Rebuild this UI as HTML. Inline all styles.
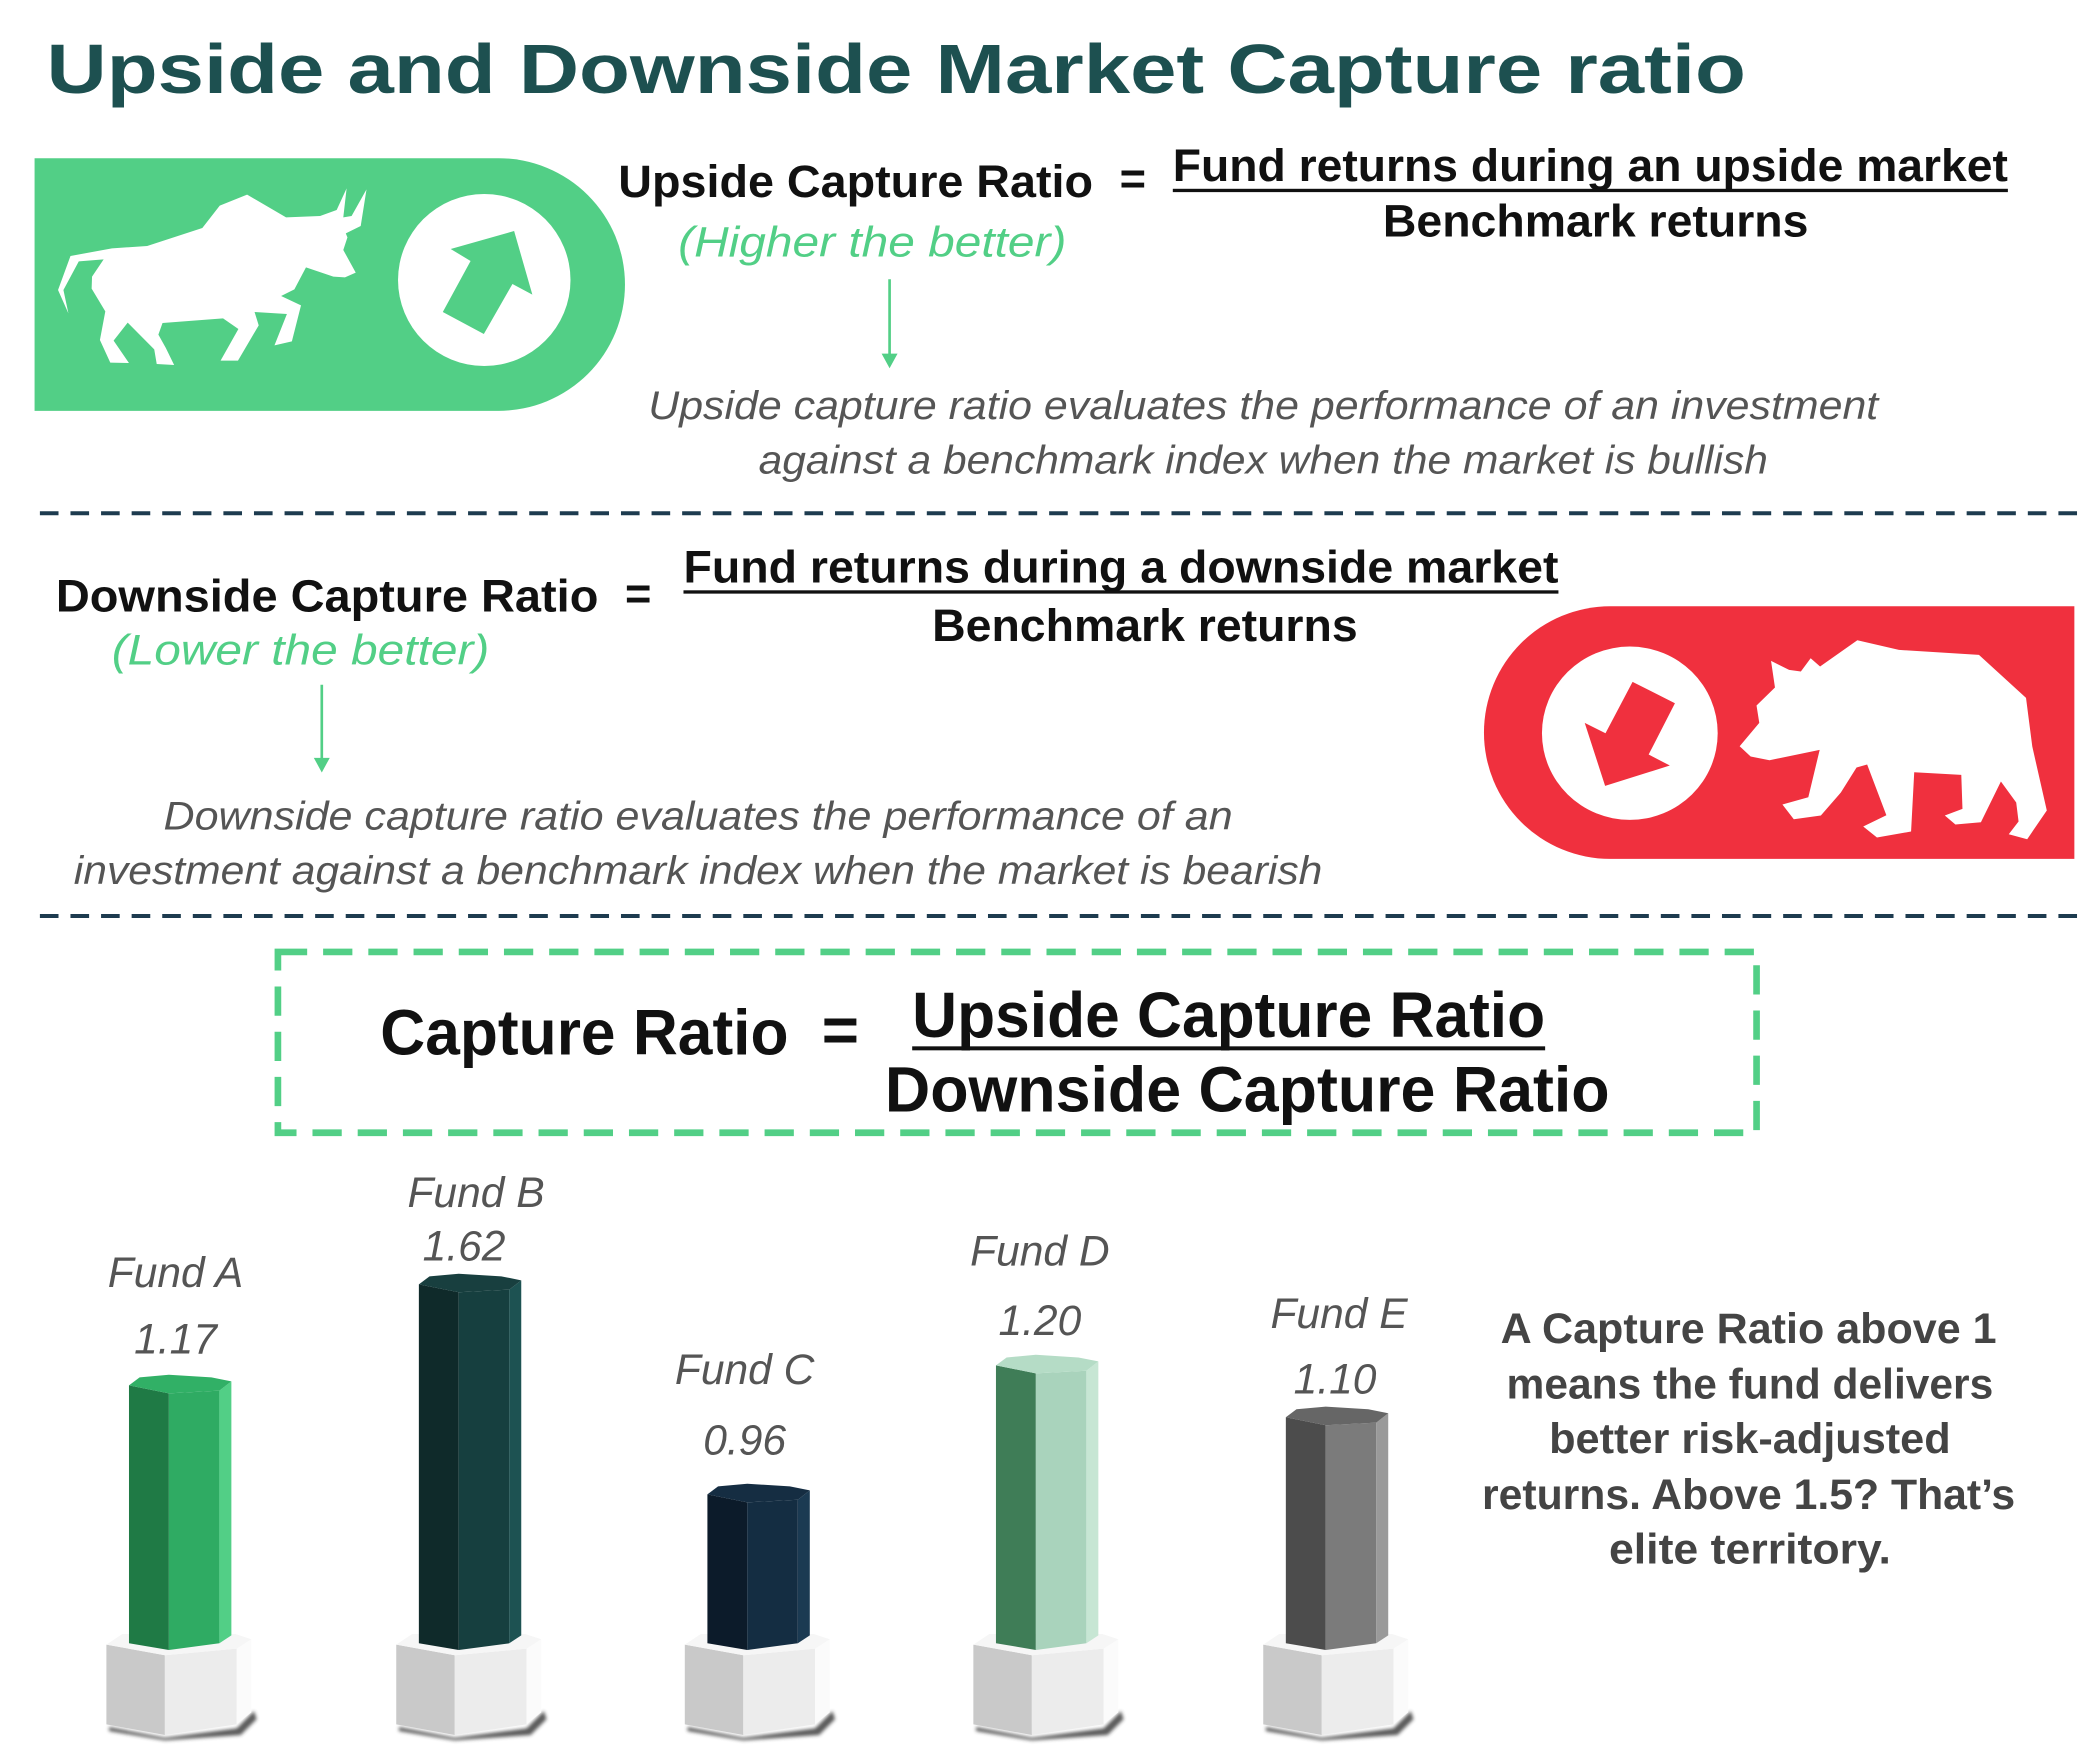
<!DOCTYPE html>
<html><head><meta charset="utf-8"><style>
html,body{margin:0;padding:0;background:#fff}
svg{display:block}
text{font-family:"Liberation Sans",sans-serif}
.b{font-weight:bold;fill:#111}
.it{font-style:italic;fill:#555}
.g{font-style:italic;fill:#52cf86}
</style></head><body>
<svg width="2085" height="1747" viewBox="0 0 1568 1314" preserveAspectRatio="none" xmlns="http://www.w3.org/2000/svg">
<defs>
<filter id="bl" x="-50%" y="-50%" width="200%" height="200%"><feGaussianBlur stdDeviation="1.5"/></filter>
<g id="ped">
<polygon points="-15,1299 27,1307 81,1300 94,1287 96,1293 84,1305 27,1309 -15,1302" fill="#333" filter="url(#bl)" opacity="0.8"/>
<polygon points="-17,1237 27,1245 27,1305 -17,1297" fill="#c9c9c9"/>
<polygon points="27,1245 81,1240 81,1297 27,1305" fill="#ececec"/>
<polygon points="81,1240 92,1233 92,1288 81,1297" fill="#fbfbfb"/>
<polygon points="-17,1237 -5,1229 80,1229 92,1233 81,1240 27,1245" fill="#f6f6f6"/>
</g>
</defs>
<text x="35" y="70" font-size="52" font-weight="bold" fill="#1d5050" textLength="1278" lengthAdjust="spacingAndGlyphs">Upside and Downside Market Capture ratio</text>

<path d="M26,119 H375 A95,95 0 0 1 375,309 H26 Z" fill="#52cf86"/>
<g transform="matrix(0.3118,0,0,0.2507,0,105.3)">
<polygon fill="#fff" points="165,520 140,450 170,348 270,325 355,318 488,264 530,197 596,164 690,232 772,228 812,210 836,145 828,232 848,228 884,148 870,258 834,280 838,292 828,330 858,398 832,412 804,410 738,382 710,448 678,468 726,496 704,604 662,616 692,522 614,516 624,556 574,662 532,662 575,567 538,535 392,549 382,584 400,624 420,675 378,672 372,628 308,548 274,602 311,669 266,668 241,600 254,514 221,446 222,410 250,358 190,364 153,450"/>
<ellipse cx="1168" cy="420" rx="208" ry="258" fill="#fff"/>
<polygon fill="#52cf86" points="1087,327 1240,273 1284,464 1236,432 1167,582 1068,516 1135,363"/>
</g>

<text class="b" x="465" y="148" font-size="34" textLength="357" lengthAdjust="spacingAndGlyphs">Upside Capture Ratio</text>
<text class="b" x="842" y="146" font-size="34">=</text>
<text class="b" x="882" y="136" font-size="34" textLength="628" lengthAdjust="spacingAndGlyphs">Fund returns during an upside market</text>
<rect x="882" y="142" width="628" height="2.5" fill="#111"/>
<text class="b" x="1200" y="178" font-size="34" text-anchor="middle" textLength="320" lengthAdjust="spacingAndGlyphs">Benchmark returns</text>
<text class="g" x="656" y="193" font-size="32" text-anchor="middle" textLength="292" lengthAdjust="spacingAndGlyphs">(Higher the better)</text>
<line x1="669" y1="210" x2="669" y2="268" stroke="#52cf86" stroke-width="2"/>
<polygon points="663,266 675,266 669,277" fill="#52cf86"/>
<text class="it" x="950" y="315" font-size="30" text-anchor="middle" textLength="925" lengthAdjust="spacingAndGlyphs">Upside capture ratio evaluates the performance of an investment</text>
<text class="it" x="950" y="356" font-size="30" text-anchor="middle" textLength="759" lengthAdjust="spacingAndGlyphs">against a benchmark index when the market is bullish</text>

<line x1="30" y1="386" x2="1568" y2="386" stroke="#1d3b4f" stroke-width="3" stroke-dasharray="14 9"/>

<text class="b" x="42" y="460" font-size="34" textLength="408" lengthAdjust="spacingAndGlyphs">Downside Capture Ratio</text>
<text class="b" x="470" y="458" font-size="34">=</text>
<text class="b" x="514" y="438" font-size="34" textLength="658" lengthAdjust="spacingAndGlyphs">Fund returns during a downside market</text>
<rect x="514" y="444" width="658" height="2.5" fill="#111"/>
<text class="b" x="861" y="482" font-size="34" text-anchor="middle" textLength="320" lengthAdjust="spacingAndGlyphs">Benchmark returns</text>
<text class="g" x="226" y="500" font-size="32" text-anchor="middle" textLength="284" lengthAdjust="spacingAndGlyphs">(Lower the better)</text>
<line x1="242" y1="515" x2="242" y2="572" stroke="#52cf86" stroke-width="2"/>
<polygon points="236,570 248,570 242,581" fill="#52cf86"/>
<text class="it" x="525" y="624" font-size="30" text-anchor="middle" textLength="804" lengthAdjust="spacingAndGlyphs">Downside capture ratio evaluates the performance of an</text>
<text class="it" x="525" y="665" font-size="30" text-anchor="middle" textLength="939" lengthAdjust="spacingAndGlyphs">investment against a benchmark index when the market is bearish</text>

<path d="M1560,456 H1211 A95,95 0 0 0 1211,646 H1560 Z" fill="#f0303e"/>
<g transform="matrix(0.295,0,0,0.2507,1113,451.2)">
<ellipse cx="382" cy="400" rx="224" ry="260" fill="#fff"/>
<polygon fill="#f0303e" points="389,246 497,310 430,464 484,497 319,558 267,369 320,400"/>
<polygon fill="#fff" points="742,183 788,210 818,215 843,175 867,200 962,121 1068,150 1272,165 1392,294 1408,440 1445,632 1395,718 1348,703 1373,665 1367,608 1328,545 1277,667 1212,674 1185,647 1230,627 1227,525 1107,517 1099,695 1012,713 977,680 1036,646 987,494 960,503 920,578 869,647 800,658 771,614 837,592 866,450 738,481 690,470 662,439 712,369 705,317 752,263"/>
</g>

<line x1="30" y1="689" x2="1568" y2="689" stroke="#1d3b4f" stroke-width="3" stroke-dasharray="14 9"/>

<rect x="209" y="716" width="1112" height="136" fill="none" stroke="#52cf86" stroke-width="5" stroke-dasharray="22 12"/>
<text class="b" x="286" y="793" font-size="48" textLength="307" lengthAdjust="spacingAndGlyphs">Capture Ratio</text>
<text class="b" x="618" y="791" font-size="48">=</text>
<text class="b" x="924" y="780" font-size="48" text-anchor="middle" textLength="476" lengthAdjust="spacingAndGlyphs">Upside Capture Ratio</text>
<rect x="686" y="787" width="476" height="3" fill="#111"/>
<text class="b" x="938" y="836" font-size="48" text-anchor="middle" textLength="545" lengthAdjust="spacingAndGlyphs">Downside Capture Ratio</text>

<g transform="translate(97,0)"><use href="#ped"/>
<polygon points="0,1042 30,1048 30,1241 0,1236" fill="#1f7a45"/>
<polygon points="30,1048 68,1046 68,1236 30,1241" fill="#2fab63"/>
<polygon points="68,1046 77,1039 77,1230 68,1236" fill="#52cf86"/>
<polygon points="0,1042 8,1036 30,1034 62,1036 77,1039 68,1046 30,1048" fill="#31b066"/></g>

<g transform="translate(315,0)"><use href="#ped"/>
<polygon points="0,966 30,972 30,1241 0,1236" fill="#0f2a2a"/>
<polygon points="30,972 68,970 68,1236 30,1241" fill="#163f3f"/>
<polygon points="68,970 77,963 77,1230 68,1236" fill="#1d5252"/>
<polygon points="0,966 8,960 30,958 62,960 77,963 68,970 30,972" fill="#183f3f"/></g>

<g transform="translate(532,0)"><use href="#ped"/>
<polygon points="0,1124 30,1130 30,1241 0,1236" fill="#0c1b2a"/>
<polygon points="30,1130 68,1128 68,1236 30,1241" fill="#142d42"/>
<polygon points="68,1128 77,1121 77,1230 68,1236" fill="#1b3a52"/>
<polygon points="0,1124 8,1118 30,1116 62,1118 77,1121 68,1128 30,1130" fill="#152d42"/></g>

<g transform="translate(749,0)"><use href="#ped"/>
<polygon points="0,1027 30,1033 30,1241 0,1236" fill="#3f7d57"/>
<polygon points="30,1033 68,1031 68,1236 30,1241" fill="#a9d3bc"/>
<polygon points="68,1031 77,1024 77,1230 68,1236" fill="#c7e6d4"/>
<polygon points="0,1027 8,1021 30,1019 62,1021 77,1024 68,1031 30,1033" fill="#b5dcc6"/></g>

<g transform="translate(967,0)"><use href="#ped"/>
<polygon points="0,1066 30,1072 30,1241 0,1236" fill="#4c4c4c"/>
<polygon points="30,1072 68,1070 68,1236 30,1241" fill="#7b7b7b"/>
<polygon points="68,1070 77,1063 77,1230 68,1236" fill="#9a9a9a"/>
<polygon points="0,1066 8,1060 30,1058 62,1060 77,1063 68,1070 30,1072" fill="#666"/></g>

<g font-size="32" text-anchor="middle">
<text class="it" x="132" y="968">Fund A</text><text class="it" x="132" y="1018">1.17</text>
<text class="it" x="358" y="908">Fund B</text><text class="it" x="349" y="948">1.62</text>
<text class="it" x="560" y="1041">Fund C</text><text class="it" x="560" y="1094">0.96</text>
<text class="it" x="782" y="952">Fund D</text><text class="it" x="782" y="1004">1.20</text>
<text class="it" x="1007" y="999">Fund E</text><text class="it" x="1004" y="1048">1.10</text>
</g>

<g font-size="32" font-weight="bold" fill="#444" text-anchor="middle">
<text x="1315" y="1010" textLength="373" lengthAdjust="spacingAndGlyphs">A Capture Ratio above 1</text>
<text x="1316" y="1052" textLength="366" lengthAdjust="spacingAndGlyphs">means the fund delivers</text>
<text x="1316" y="1093" textLength="302" lengthAdjust="spacingAndGlyphs">better risk-adjusted</text>
<text x="1315" y="1135" textLength="401" lengthAdjust="spacingAndGlyphs">returns. Above 1.5? That’s</text>
<text x="1316" y="1176" textLength="212" lengthAdjust="spacingAndGlyphs">elite territory.</text>
</g>
</svg>
</body></html>
